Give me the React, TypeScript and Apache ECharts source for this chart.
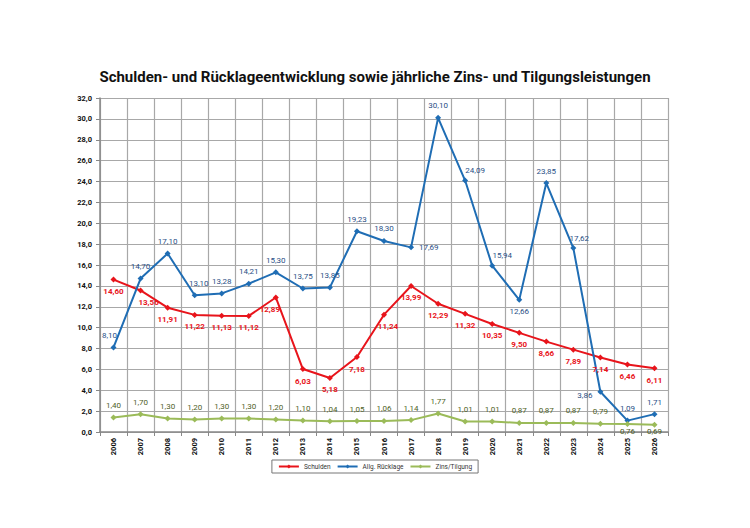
import React, { useEffect, useRef } from "react";
import * as echarts from "echarts";

const years = ["2006","2007","2008","2009","2010","2011","2012","2013","2014","2015","2016","2017","2018","2019","2020","2021","2022","2023","2024","2025","2026"];
const schulden = [14.60, 13.56, 11.91, 11.22, 11.13, 11.12, 12.89, 6.03, 5.18, 7.18, 11.24, 13.99, 12.29, 11.32, 10.35, 9.50, 8.66, 7.89, 7.14, 6.46, 6.11];
const ruecklage = [8.10, 14.70, 17.10, 13.10, 13.28, 14.21, 15.30, 13.75, 13.85, 19.23, 18.30, 17.69, 30.10, 24.09, 15.94, 12.66, 23.85, 17.62, 3.86, 1.09, 1.71];
const zins = [1.40, 1.70, 1.30, 1.20, 1.30, 1.30, 1.20, 1.10, 1.04, 1.05, 1.06, 1.14, 1.77, 1.01, 1.01, 0.87, 0.87, 0.87, 0.79, 0.76, 0.69];

const FONT = "Roboto";
const fmt2 = (v: number) => v.toFixed(2).replace(".", ",");

// per-point label placement tweaks
const schuldenLabel: Record<number, any> = {
  1: { offset: [8, 0] },
  6: { offset: [-6, 0] },
  10: { offset: [4, 0] },
};
const ruecklageLabel: Record<number, any> = {
  0: { offset: [-4, 0] },
  3: { offset: [4, 0] },
  11: { position: "right" },
  13: { offset: [10, 2] },
  14: { offset: [10, 2] },
  15: { position: "bottom" },
  17: { offset: [6, 2] },
  18: { position: "left", offset: [0, 4] },
};
const zinsLabel: Record<number, any> = {
  19: { position: "bottom", distance: 0 },
  20: { position: "bottom", distance: 0 },
};

function build(values: number[], tweaks: Record<number, any>) {
  return values.map((v, i) => (tweaks[i] ? { value: v, label: tweaks[i] } : v));
}

export default function App() {
  const ref = useRef<HTMLDivElement>(null);
  useEffect(() => {
    const chart = echarts.init(ref.current!, null, { renderer: "svg" });
    const labelBase = { show: true, fontFamily: FONT, fontSize: 8, formatter: (p: any) => fmt2(p.value) };
    chart.setOption({
      animation: false,
      backgroundColor: "#ffffff",
      title: {
        text: "Schulden- und Rücklageentwicklung sowie jährliche Zins- und Tilgungsleistungen",
        left: "center",
        top: 64,
        textStyle: { fontFamily: FONT, fontSize: 15, fontWeight: "bold", color: "#111" },
      },
      legend: {
        bottom: 55,
        left: "center",
        itemWidth: 20,
        itemHeight: 5,
        itemGap: 6,
        padding: [3, 6],
        borderColor: "#777",
        borderWidth: 1,
        textStyle: { fontFamily: FONT, fontSize: 6.5, color: "#333" },
        data: ["Schulden", "Allg. Rücklage", "Zins/Tilgung"],
      },
      grid: { left: 100, right: 82, top: 98, bottom: 96 },
      xAxis: {
        type: "category",
        data: years,
        boundaryGap: true,
        axisLine: { lineStyle: { color: "#888", width: 1.5 } },
        axisTick: { show: true, length: 4, lineStyle: { color: "#888" } },
        axisLabel: { rotate: 90, fontFamily: FONT, fontSize: 7.5, fontWeight: "bold", color: "#111", margin: 6 },
        splitLine: { show: true, lineStyle: { color: "#a8a8a8", width: 1.2 } },
      },
      yAxis: {
        type: "value",
        min: 0,
        max: 32,
        interval: 2,
        axisLine: { show: true, lineStyle: { color: "#888", width: 1.5 } },
        axisTick: { show: true, length: 4, lineStyle: { color: "#888" } },
        axisLabel: { fontFamily: FONT, fontSize: 7.5, fontWeight: "bold", color: "#111", margin: 8, formatter: (v: number) => v.toFixed(1).replace(".", ",") },
        splitLine: { show: true, lineStyle: { color: "#a8a8a8", width: 1.2 } },
      },
      series: [
        {
          name: "Schulden",
          type: "line",
          data: build(schulden, schuldenLabel),
          color: "#e8141b",
          symbol: "diamond",
          symbolSize: 6,
          lineStyle: { width: 2 },
          label: { ...labelBase, position: "bottom", distance: 5, color: "#e8141b", fontWeight: "bold" },
        },
        {
          name: "Allg. Rücklage",
          type: "line",
          data: build(ruecklage, ruecklageLabel),
          color: "#1f6db4",
          symbol: "diamond",
          symbolSize: 6,
          lineStyle: { width: 2 },
          label: { ...labelBase, position: "top", distance: 5, color: "#2a4f86" },
        },
        {
          name: "Zins/Tilgung",
          type: "line",
          data: build(zins, zinsLabel),
          color: "#9bbb59",
          symbol: "diamond",
          symbolSize: 6,
          lineStyle: { width: 2 },
          label: { ...labelBase, position: "top", distance: 5, color: "#4f6228" },
        },
      ],
    });
    return () => chart.dispose();
  }, []);
  return <div ref={ref} style={{ width: 750, height: 528, marginLeft: -8, marginTop: -8 }} />;
}
